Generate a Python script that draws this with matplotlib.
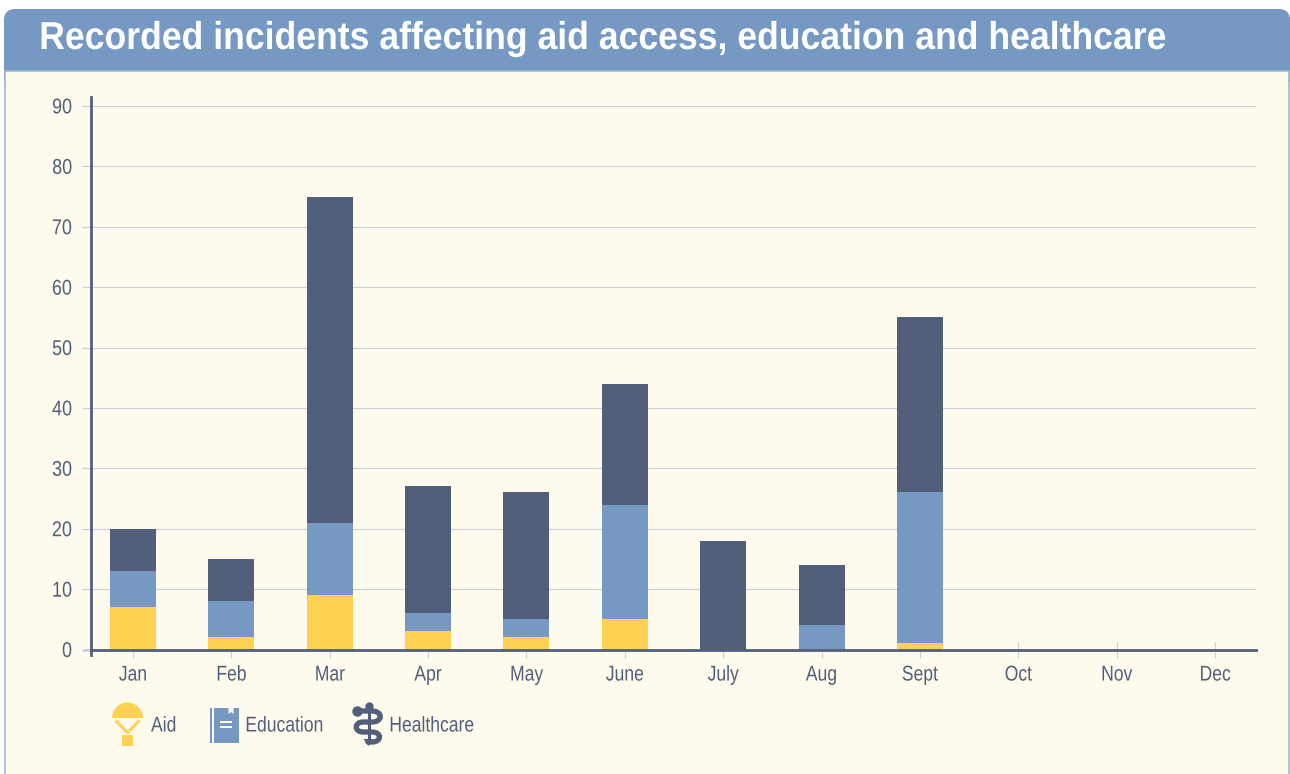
import matplotlib
matplotlib.use("Agg")
import matplotlib.pyplot as plt
from matplotlib.patches import FancyBboxPatch, Rectangle, Wedge, PathPatch, Polygon
from matplotlib.patheffects import AbstractPathEffect
from matplotlib.path import Path
from matplotlib.transforms import Affine2D

months = ["Jan", "Feb", "Mar", "Apr", "May", "June", "July", "Aug", "Sept", "Oct", "Nov", "Dec"]
aid = [7, 2, 9, 3, 2, 5, 0, 0, 1, 0, 0, 0]
education = [6, 6, 12, 3, 3, 19, 0, 4, 25, 0, 0, 0]
healthcare = [7, 7, 54, 21, 21, 20, 18, 10, 29, 0, 0, 0]
y_ticks = [0, 10, 20, 30, 40, 50, 60, 70, 80, 90]
title = "Recorded incidents affecting aid access, education and healthcare"

YELLOW = "#FFD152"
BLUE = "#7699C4"
NAVY = "#525F7A"
CREAM = "#FFFAEE"
GRID = "#CDCED8"
EDGE = "#9DB6D6"

plt.rcParams["font.family"] = ["Liberation Sans", "DejaVu Sans"]


# no narrow font here, so squeeze the glyphs sideways (text stays text)
class Squeeze(AbstractPathEffect):
    def __init__(self, sx, anchor):
        super().__init__()
        self.sx = sx
        self.anchor = anchor

    def draw_path(self, renderer, gc, tpath, affine, rgbFace=None):
        box = tpath.get_extents()
        x0 = {"left": box.x0, "center": (box.x0 + box.x1) / 2, "right": box.x1}[self.anchor]
        squeeze = Affine2D().translate(-x0, 0).scale(self.sx, 1).translate(x0, 0)
        renderer.draw_path(gc, tpath, squeeze + affine, rgbFace)


W, H = 1290, 774
fig = plt.figure(figsize=(W / 100, H / 100), dpi=100, facecolor="white")

# background panel, in pixel coords
bg = fig.add_axes([0, 0, 1, 1], zorder=0)
bg.set_xlim(0, W)
bg.set_ylim(H, 0)
bg.axis("off")
bg.add_patch(FancyBboxPatch((4, 9), 1286, 80, boxstyle="round,pad=0,rounding_size=11",
                            fc=BLUE, ec="none"))
bg.add_patch(Rectangle((5, 71), 1284, 720, fc=CREAM, ec=EDGE, lw=1.2))
bg.text(39, 39, title, color="white", fontsize=28, fontweight="bold", va="center", ha="left",
        path_effects=[Squeeze(0.915, "left")])

# main chart
left, right, top, bottom = 91, 1256, 96.5, 649.5
ax = fig.add_axes([left / W, 1 - bottom / H, (right - left) / W, (bottom - top) / H], zorder=1)
ax.patch.set_alpha(0)
x = range(len(months))
bar_w = 46 / 98.36
ax.bar(x, aid, bar_w, color=YELLOW)
ax.bar(x, education, bar_w, bottom=aid, color=BLUE)
stack = [a + e for a, e in zip(aid, education)]
ax.bar(x, healthcare, bar_w, bottom=stack, color=NAVY)

ax.set_xlim(-0.427, 11.417)
ax.set_ylim(0, 553 / 6.04)
ax.set_axisbelow(True)
ax.set_xticks(list(x), months)
ax.set_yticks(y_ticks)
ax.grid(axis="y", color=GRID, lw=0.8)
ax.tick_params(axis="x", direction="inout", length=11.5, width=0.8, color=GRID, labelcolor=NAVY,
               labelsize=15.4, pad=5.8)
ax.tick_params(axis="y", length=6.5, width=0.8, color=GRID, labelcolor=NAVY, labelsize=15.4, pad=7)
ax.get_yticklines()[0].set_color(NAVY)
ax.get_yticklines()[0].set_markeredgewidth(2)
for lab in ax.get_xticklabels():
    lab.set_path_effects([Squeeze(0.82, "center")])
for lab in ax.get_yticklabels():
    lab.set_path_effects([Squeeze(0.84, "right")])
for s in ["top", "right"]:
    ax.spines[s].set_visible(False)
ax.spines["bottom"].set_color(NAVY)
ax.spines["bottom"].set_linewidth(2)
ax.spines["left"].set_color(NAVY)
ax.spines["left"].set_linewidth(2)
ax.spines["left"].set_bounds(-5 / 6.04, 553 / 6.04)

# legend icons and labels, in pixel coords
ov = fig.add_axes([0, 0, 1, 1], zorder=2)
ov.set_xlim(0, W)
ov.set_ylim(H, 0)
ov.axis("off")
ov.patch.set_alpha(0)

ov.add_patch(Wedge((127.5, 718), 15.5, 180, 360, fc=YELLOW, ec="none"))
ov.plot([115.5, 127.5, 139.5], [720.5, 732.5, 720.5], color=YELLOW, lw=2.2, solid_capstyle="butt")
ov.add_patch(Rectangle((122, 735), 11, 11, fc=YELLOW, ec="none"))

ov.add_patch(Rectangle((209.5, 708), 29, 35, fc=BLUE, ec="none"))
ov.add_patch(Rectangle((212, 708), 1.5, 35, fc=CREAM, ec="none"))
ov.add_patch(Polygon([(228.5, 708), (233.5, 708), (233.5, 714), (231, 712), (228.5, 714)],
                     fc=CREAM, ec="none"))
ov.add_patch(Rectangle((219.5, 721), 12.5, 1.8, fc=CREAM, ec="none"))
ov.add_patch(Rectangle((219.5, 726), 12.5, 1.8, fc=CREAM, ec="none"))

# rod and snake
ov.plot([368.5], [705.5], "o", color=NAVY, ms=5)
ov.plot([368.5, 368.5], [705, 742], color=NAVY, lw=2.2, solid_capstyle="butt")
ov.add_patch(Polygon([(363.5, 739), (373.5, 739), (368.5, 746)], fc=NAVY, ec="none"))
snake = Path(
    [(358, 711), (372, 711),
     (383, 711), (383, 722), (372, 722),
     (363, 722),
     (354, 722), (354, 732), (363, 732),
     (372, 732),
     (382, 732), (382, 742), (372, 742),
     (368, 742)],
    [Path.MOVETO, Path.LINETO,
     Path.CURVE4, Path.CURVE4, Path.CURVE4,
     Path.LINETO,
     Path.CURVE4, Path.CURVE4, Path.CURVE4,
     Path.LINETO,
     Path.CURVE4, Path.CURVE4, Path.CURVE4,
     Path.LINETO],
)
ov.add_patch(PathPatch(snake, fc="none", ec=NAVY, lw=3.8, capstyle="round"))
ov.plot([356.5], [711], "o", color=NAVY, ms=6.5)

for label, px in [("Aid", 151), ("Education", 245), ("Healthcare", 389)]:
    ov.text(px, 726, label, color=NAVY, fontsize=15.4, va="center", ha="left",
            path_effects=[Squeeze(0.82, "left")])

fig.savefig("out.png", dpi=100, facecolor="white")
